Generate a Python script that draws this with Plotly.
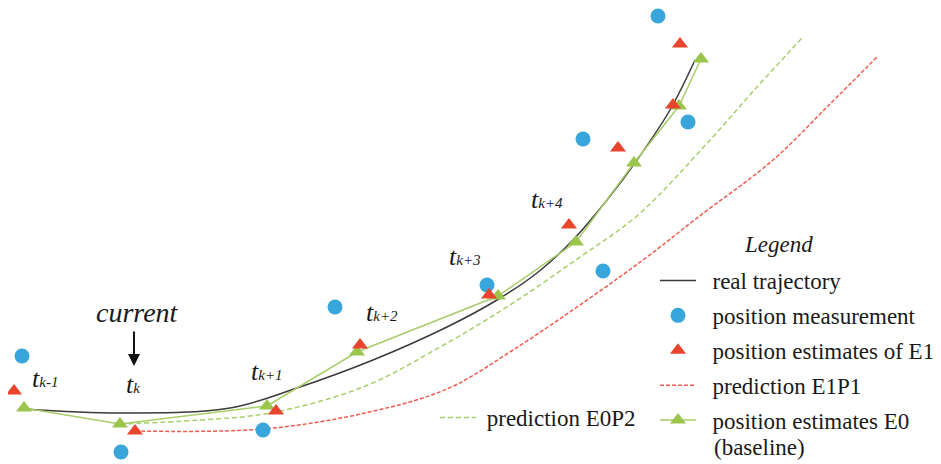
import plotly.graph_objects as go

# ---- data (pixel-like coordinates, y grows downward) ----
meas_x = [22, 121, 263, 335, 487, 603, 583, 688, 658]
meas_y = [356, 452, 430, 307, 285, 271, 139, 122, 16]

e1_x = [14, 135, 276, 360, 489, 569, 618, 673, 680]
e1_y = [391, 431, 411, 345, 295, 225, 148, 105, 44]

e0_x = [24, 120, 267, 357, 498, 576, 634, 679, 701]
e0_y = [408, 424, 406, 352, 296, 242, 163, 106, 59]

real_x = [24, 120, 230, 297, 373, 447, 497, 537, 573, 607, 637, 670, 695]
real_y = [409, 413, 408, 388, 360, 327, 300, 273, 240, 200, 160, 110, 60]

e1p1_x = [135, 263, 365, 447, 513, 590, 647, 697, 773, 827, 878]
e1p1_y = [431, 429, 413, 389, 350, 298, 257, 218, 160, 107, 56]

e0p2_x = [120, 200, 270, 363, 447, 513, 580, 638, 710, 757, 803]
e0p2_y = [424, 420, 413, 387, 343, 303, 257, 215, 140, 87, 37]

time_labels = ["k-1", "k", "k+1", "k+2", "k+3", "k+4"]
time_label_x = [45, 133, 267, 382, 465, 547]
time_label_y = [378, 384, 371, 312, 256, 199]

BLUE = "#38A5DB"
RED = "#E8452C"
GREEN = "#9CC54C"
GREEN_LINE = "#A8CD6A"
RED_DASH = "#EE5B4E"
FONT = "Liberation Serif"
TXT = "#1a1a1a"
NB = "\u00a0"

# the page body has an 8px margin; size the figure and ranges so that
# data coordinates equal page pixels
OFF = 8
W, H = 941 - OFF, 464 - OFF


def px_x(p):
    return (p - OFF) / W


def px_y(p):
    return 1 - (p - OFF) / H


fig = go.Figure()

fig.add_trace(go.Scatter(x=e1p1_x, y=e1p1_y, mode="lines", name=NB * 2 + "prediction E1P1",
                         line=dict(color=RED_DASH, width=1.5, dash="4px,2px", shape="spline"),
                         legendrank=4, legendgroup="g4"))
fig.add_trace(go.Scatter(x=e0p2_x, y=e0p2_y, mode="lines", name=NB + "prediction E0P2",
                         line=dict(color=GREEN_LINE, width=1.5, dash="5px,3px", shape="spline"),
                         legend="legend2", legendgroup="g6"))
fig.add_trace(go.Scatter(x=real_x, y=real_y, mode="lines", name=NB * 2 + "real trajectory",
                         line=dict(color="#3a3a3a", width=1.5, shape="spline"),
                         legendrank=1, legendgroup="g1"))
fig.add_trace(go.Scatter(x=meas_x, y=meas_y, mode="markers",
                         name=NB * 2 + "position measurement",
                         marker=dict(color=BLUE, size=15, symbol="circle"),
                         legendrank=2, legendgroup="g2"))
fig.add_trace(go.Scatter(x=e0_x, y=e0_y, mode="lines+markers",
                         name=NB * 2 + "position estimates E0",
                         line=dict(color=GREEN_LINE, width=1.5),
                         marker=dict(color=GREEN, size=14, symbol="triangle-up"),
                         legendrank=5, legendgroup="g5"))
fig.add_trace(go.Scatter(x=e1_x, y=e1_y, mode="markers",
                         name=NB * 2 + "position estimates of E1",
                         marker=dict(color=RED, size=14, symbol="triangle-up"),
                         legendrank=3, legendgroup="g3"))

for lab, lx, ly in zip(time_labels, time_label_x, time_label_y):
    fig.add_annotation(x=lx, y=ly, xref="x", yref="y", showarrow=False,
                       text="<i>t<span style='font-size:15px'>" + lab + "</span></i>",
                       font=dict(family=FONT, size=26, color=TXT))

fig.add_annotation(x=137, y=312, xref="x", yref="y", showarrow=False,
                   text="<i>current</i>", font=dict(family=FONT, size=28, color=TXT))
fig.add_annotation(x=134, y=366, ax=134, ay=330, xref="x", yref="y", axref="x", ayref="y",
                   text="", showarrow=True, arrowhead=2, arrowsize=1.2, arrowwidth=2,
                   arrowcolor="#111")

# legend title and the wrapped second line of the last legend entry
fig.add_annotation(x=778, y=244, xref="x", yref="y", showarrow=False,
                   text="<i>Legend</i>", font=dict(family=FONT, size=23, color=TXT))
fig.add_annotation(x=712, y=447, xref="x", yref="y", showarrow=False, xanchor="left",
                   text="(baseline)", font=dict(family=FONT, size=23, color=TXT))

fig.update_layout(
    width=W, height=H,
    margin=dict(l=0, r=0, t=0, b=0),
    plot_bgcolor="white", paper_bgcolor="white",
    font=dict(family=FONT, color=TXT),
    xaxis=dict(range=[OFF, 941], visible=False, fixedrange=True),
    yaxis=dict(range=[464, OFF], visible=False, fixedrange=True),
    showlegend=True,
    legend=dict(
        x=px_x(655), y=px_y(259), xanchor="left", yanchor="top",
        xref="paper", yref="paper",
        font=dict(family=FONT, size=23, color=TXT),
        bgcolor="rgba(0,0,0,0)", valign="middle", traceorder="grouped",
        itemwidth=36, tracegroupgap=2,
    ),
    legend2=dict(
        x=px_x(435), y=px_y(396), xanchor="left", yanchor="top",
        xref="paper", yref="paper",
        font=dict(family=FONT, size=23, color=TXT),
        bgcolor="rgba(0,0,0,0)", itemwidth=36,
    ),
)

fig.write_html("out.html")
